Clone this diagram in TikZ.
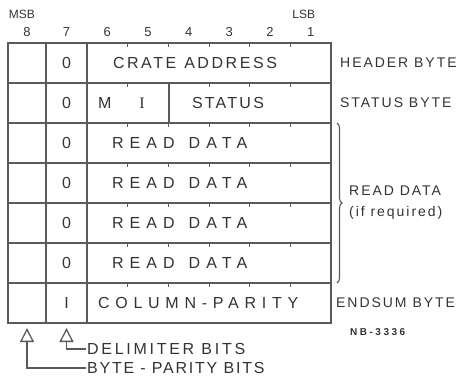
\documentclass[tikz,border=0pt]{standalone}
\usepackage{fontspec}
\setmainfont{Liberation Sans}
\newfontfamily\serifI{Liberation Serif}
\usetikzlibrary{positioning, arrows.meta, calc, decorations.pathreplacing}
\definecolor{cInk}{HTML}{333333}
\definecolor{cRule}{HTML}{5A5A5A}
\tikzset{
  cell/.style      ={draw=cRule, line width=1.1pt, inner sep=0pt,
                     outer sep=0pt, minimum height=40pt, text=cInk,
                     font=\fontsize{16}{18}\selectfont},
  spaced/.style    ={font=\fontsize{16}{18}\selectfont\addfontfeature{LetterSpace=#1}},
  parcell/.style   ={cell, minimum width=38pt},
  delcell/.style   ={cell, minimum width=41pt},
  fieldcell/.style ={cell, minimum width=244pt, align=left},
  micell/.style    ={cell, minimum width=82pt, text width=60pt, align=left},
  stcell/.style    ={cell, minimum width=162pt, text width=116pt, align=left},
  tick/.style      ={draw=cRule, line width=0.9pt},
  bitnum/.style    ={font=\fontsize{13}{15}\selectfont, text=cInk, inner sep=0pt},
  endlabel/.style  ={font=\fontsize{12}{14}\selectfont, text=cInk, inner sep=0pt},
  sidelabel/.style ={font=\fontsize{14}{21}\selectfont\addfontfeature{LetterSpace=14},
                     text=cInk, inner sep=0pt},
  tag/.style       ={font=\fontsize{10}{12}\selectfont\bfseries\addfontfeature{LetterSpace=25},
                     text=cInk, inner sep=0pt},
  note/.style      ={text=cInk, inner sep=1pt},
  bracket/.style   ={draw=cRule, line width=1.1pt, decorate,
                     decoration={brace, amplitude=5pt}},
  pointer/.style   ={-{Triangle[open, width=14pt, length=14pt, line width=1.3pt]},
                     draw=cRule, line width=1.1pt, shorten >=5pt},
}

\begin{document}
\begin{tikzpicture}[x=1pt, y=-1pt]
  \useasboundingbox (0,0) rectangle (461,378);

  % ============================================================
  % BYTE ROWS (7 rows of 8 bits)
  % ============================================================
  % header byte
  \node[parcell, anchor=north west] (par1) at (8,43) {};
  \node[delcell, right=0pt of par1] (del1) {0};
  \node[fieldcell, spaced=16, text width=192pt, right=0pt of del1] (fld1) {CRATE\hspace{8pt}ADDRESS};

  % status byte
  \node[parcell, below=0pt of par1] (par2) {};
  \node[delcell, right=0pt of par2] (del2) {0};
  \node[micell, right=0pt of del2] (mi2) {M\hspace{28pt}{\serifI I}};
  \node[stcell, spaced=14, right=0pt of mi2] (st2) {STATUS};

  % read data bytes
  \node[parcell, below=0pt of par2] (par3) {};
  \node[delcell, right=0pt of par3] (del3) {0};
  \node[fieldcell, spaced=38, text width=194pt, right=0pt of del3] (fld3) {READ\hspace{14pt}DATA};

  \node[parcell, below=0pt of par3] (par4) {};
  \node[delcell, right=0pt of par4] (del4) {0};
  \node[fieldcell, spaced=38, text width=194pt, right=0pt of del4] (fld4) {READ\hspace{14pt}DATA};

  \node[parcell, below=0pt of par4] (par5) {};
  \node[delcell, right=0pt of par5] (del5) {0};
  \node[fieldcell, spaced=38, text width=194pt, right=0pt of del5] (fld5) {READ\hspace{14pt}DATA};

  \node[parcell, below=0pt of par5] (par6) {};
  \node[delcell, right=0pt of par6] (del6) {0};
  \node[fieldcell, spaced=38, text width=194pt, right=0pt of del6] (fld6) {READ\hspace{14pt}DATA};

  % endsum byte
  \node[parcell, below=0pt of par6] (par7) {};
  \node[delcell, right=0pt of par7] (del7) {I};
  \node[fieldcell, spaced=36, text width=222pt, right=0pt of del7] (fld7) {COLUMN-PARITY};

  % bit ticks on each row top
  \foreach \r in {1,...,7}
    \foreach \k in {1,...,5}
      \draw[tick] ($(del\r.north east)+(\k*40.67,0)$) -- ++(0,3.5);

  % ============================================================
  % BIT NUMBERS (top)
  % ============================================================
  \node[bitnum, above=6pt of par1] (b8) {8};
  \node[bitnum, above=6pt of del1] (b7) {7};
  \foreach \b [count=\k from 0] in {6,...,1}
    \node[bitnum] (b\b) at ($(del1.north east)+(20.33+40.67*\k,-11)$) {\b};
  \node[endlabel, above=9pt of b8, xshift=-5pt] (msb) {MSB};
  \node[endlabel, above=9pt of b1, xshift=-7pt] (lsb) {LSB};

  % ============================================================
  % SIDE LABELS (right)
  % ============================================================
  \node[sidelabel, right=9pt of fld1] (hdrlbl) {HEADER BYTE};
  \node[sidelabel, right=9pt of st2] (stslbl) {STATUS BYTE};
  \draw[bracket] ($(fld3.north east)+(6,0)$) -- ($(fld6.south east)+(6,0)$);
  \node[sidelabel, align=left, right=18pt of fld4.south east] (rdlbl) {READ DATA\\(if required)};
  \node[sidelabel, right=5pt of fld7] (endlbl) {ENDSUM BYTE};
  \node[tag, below right=5pt and 19pt of fld7.south east] (nbtag) {NB-3336};

  % ============================================================
  % BIT NOTES (bottom)
  % ============================================================
  \node[note, spaced=17, anchor=west] (delnote) at (86,349) {DELIMITER BITS};
  \node[note, spaced=11, anchor=west] (parnote) at (86,368) {BYTE - PARITY BITS};
  \draw[pointer] (delnote.west) -| (del7.south);
  \draw[pointer] (parnote.west) -| (par7.south);

\end{tikzpicture}
\end{document}
